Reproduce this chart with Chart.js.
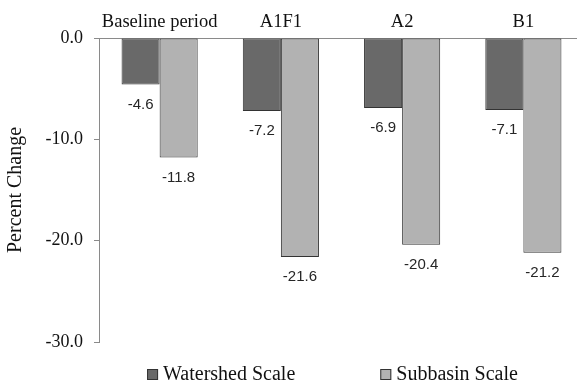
<!DOCTYPE html>
<html>
<head>
<meta charset="utf-8">
<script src="https://cdn.jsdelivr.net/npm/chart.js@4.4.1/dist/chart.umd.min.js"></script>
<style>
  html, body { margin: 0; padding: 0; background: #ffffff; overflow: hidden; }
  #wrap { position: absolute; left: 0; top: 0; width: 584px; height: 384px; }
</style>
</head>
<body>
<div id="wrap"><canvas id="c" width="584" height="384"></canvas></div>
<script>
const categories = ["Baseline period", "A1F1", "A2", "B1"];
const watershedScale = [-4.6, -7.2, -6.9, -7.1];
const subbasinScale = [-11.8, -21.6, -20.4, -21.2];
const seriesNames = ["Watershed Scale", "Subbasin Scale"];
const yTicks = [0, -10, -20, -30];

const SERIF = '"Liberation Serif", "Times New Roman", serif';
const SANS = '"Liberation Sans", Arial, sans-serif';

const valueLabels = {
  id: 'valueLabels',
  afterDatasetsDraw(chart) {
    const ctx = chart.ctx;
    ctx.save();
    ctx.font = '15px ' + SANS;
    ctx.fillStyle = '#262626';
    ctx.textAlign = 'center';
    ctx.textBaseline = 'middle';
    chart.data.datasets.forEach((ds, di) => {
      const meta = chart.getDatasetMeta(di);
      meta.data.forEach((bar, i) => {
        ctx.fillText(ds.data[i].toFixed(1), bar.x, bar.y + 20);
      });
    });
    ctx.restore();
  }
};

const bottomLegend = {
  id: 'bottomLegend',
  afterDraw(chart) {
    const ctx = chart.ctx;
    const area = chart.chartArea;
    ctx.save();
    ctx.font = '20px ' + SERIF;
    const box = 11, gapBT = 5, gapItems = 85;
    const items = chart.data.datasets.map(ds => ({
      text: ds.label, color: ds.backgroundColor, w: ctx.measureText(ds.label).width
    }));
    let total = items.reduce((s, it) => s + box + gapBT + it.w, 0) + gapItems * (items.length - 1);
    let x = (area.left + area.right) / 2 - 9 - total / 2;
    const yMid = 374.5;
    ctx.textBaseline = 'alphabetic';
    ctx.textAlign = 'left';
    items.forEach(it => {
      ctx.fillStyle = it.color;
      ctx.fillRect(x, yMid - box / 2, box, box);
      ctx.strokeStyle = '#333333';
      ctx.lineWidth = 1;
      ctx.strokeRect(x + 0.5, yMid - box / 2 + 0.5, box - 1, box - 1);
      ctx.fillStyle = '#111111';
      ctx.fillText(it.text, x + box + gapBT, 380);
      x += box + gapBT + it.w + gapItems;
    });
    ctx.restore();
  }
};

new Chart(document.getElementById('c'), {
  type: 'bar',
  data: {
    labels: categories,
    datasets: [
      { label: seriesNames[0], data: watershedScale, backgroundColor: '#696969', borderColor: '#333333', borderWidth: 1, borderSkipped: false },
      { label: seriesNames[1], data: subbasinScale, backgroundColor: '#b2b2b2', borderColor: '#333333', borderWidth: 1, borderSkipped: false }
    ]
  },
  options: {
    responsive: false,
    animation: false,
    devicePixelRatio: 1,
    layout: { padding: { left: 0, right: 0, top: 0, bottom: 42 } },
    plugins: { legend: { display: false }, tooltip: { enabled: false } },
    datasets: { bar: { categoryPercentage: 0.628, barPercentage: 1.0 } },
    scales: {
      x: {
        position: 'top',
        grid: { display: false, drawTicks: false },
        border: { display: true, color: '#8a8a8a', width: 1 },
        ticks: { font: { family: SERIF, size: 18.5 }, color: '#111111', padding: 5, maxRotation: 0 },
        afterFit(scale) { scale.height = 38; }
      },
      y: {
        min: -30, max: 0,
        afterBuildTicks(scale) { scale.ticks = yTicks.map(v => ({ value: v })); },
        grid: { drawOnChartArea: false, drawTicks: true, tickLength: 5, color: '#8a8a8a' },
        border: { display: true, color: '#8a8a8a', width: 1 },
        ticks: { font: { family: SERIF, size: 18 }, color: '#111111', padding: 11, callback: v => Number(v).toFixed(1) },
        title: { display: true, text: 'Percent Change', font: { family: SERIF, size: 20 }, color: '#111111', padding: 4 },
        afterFit(scale) { scale.width = 99; }
      }
    }
  },
  plugins: [valueLabels, bottomLegend]
});
</script>
</body>
</html>
